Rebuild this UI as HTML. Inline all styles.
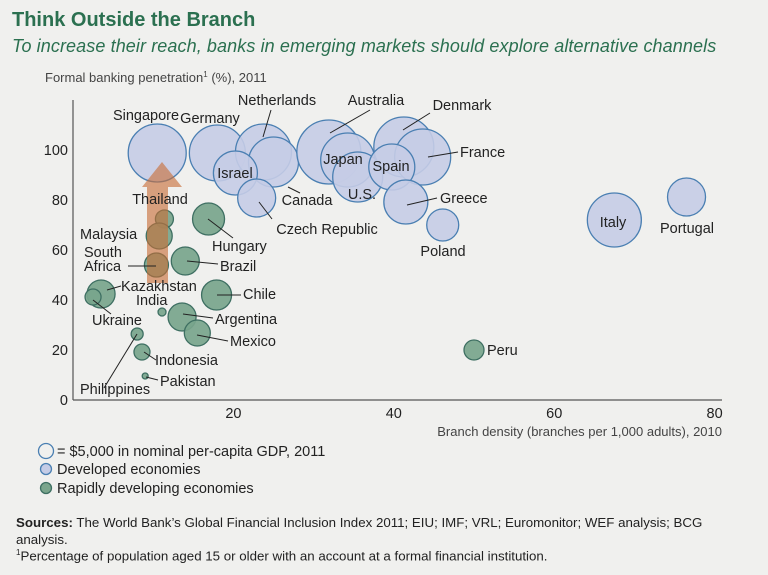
<!DOCTYPE html>
<html><head><meta charset="utf-8"><style>
body{margin:0;background:#f0f0ee;font-family:"Liberation Sans",sans-serif;}
#wrap{position:relative;width:768px;height:575px;overflow:hidden;background:#f0f0ee;}
.t{position:absolute;white-space:nowrap;}
</style></head><body>
<div id="wrap">
<div class="t" style="left:12px;top:9px;font-size:20px;font-weight:bold;color:#2b7050;">Think Outside the Branch</div>
<div class="t" style="left:12px;top:36px;font-size:18px;font-style:italic;color:#2b7050;letter-spacing:0.1px;">To increase their reach, banks in emerging markets should explore alternative channels</div>
<svg id="chart" width="768" height="575" style="position:absolute;left:0;top:0"></svg>
<div class="t" style="left:16px;top:514px;font-size:13.3px;color:#222;line-height:17px;"><b>Sources:</b> The World Bank’s Global Financial Inclusion Index 2011; EIU; IMF; VRL; Euromonitor; WEF analysis; BCG<br>analysis.</div>
<div class="t" style="left:16px;top:548px;font-size:13.3px;color:#222;"><sup style="font-size:8px">1</sup>Percentage of population aged 15 or older with an account at a formal financial institution.</div>
</div>
<script>
const countries=["Singapore","Germany","Netherlands","Canada","Israel","Czech Republic","Australia","Japan","U.S.","Denmark","France","Spain","Greece","Poland","Italy","Portugal","Thailand","Malaysia","South Africa","Hungary","Brazil","Kazakhstan","Ukraine","Chile","India","Argentina","Mexico","Philippines","Indonesia","Pakistan","Peru"];
const branchDensity=[10.5,18,23.75,25,20.25,22.9,31.9,34.25,35.5,41.25,43.6,39.75,41.5,46.1,67.5,76.5,11.4,10.75,10.4,16.9,14,3.5,2.5,17.9,11.1,13.6,15.5,8,8.6,9,50];
const penetration=[98.8,98.8,99.2,95.2,90.8,80.8,99.2,96,89.2,101.2,97.2,93.2,79.2,70,72,81.2,72.4,65.6,54,72.4,55.6,42.4,41.2,42,35.2,33.2,26.8,26.4,19.2,9.6,20];
const bubbleSize=[29,28,28,25,22,19,32,27,25,30,28,23,22,16,27,19,9,13,12,16,14,14,8,15,4,14,13,6,8,3,10];
const developed=[1,1,1,1,1,1,1,1,1,1,1,1,1,1,1,1,0,0,0,0,0,0,0,0,0,0,0,0,0,0,0];
const xTicks=[20,40,60,80];
const yTicks=[0,20,40,60,80,100];
const NS="http://www.w3.org/2000/svg";
const svg=document.getElementById('chart');
const X=v=>73+v*8.02, Y=v=>400-v*2.5;
function mk(tag,at,parent){const e=document.createElementNS(NS,tag);for(const k in at)e.setAttribute(k,at[k]);(parent||svg).appendChild(e);return e;}
function txt(s,x,y,o){const e=mk('text',Object.assign({x:x,y:y,'font-size':14.5,fill:'#222','font-family':'Liberation Sans, sans-serif'},o||{}));e.textContent=s;return e;}
let a=mk('line',{x1:73,y1:100,x2:73,y2:400,stroke:'#555','stroke-width':1.2});

a=mk('line',{x1:73,y1:400,x2:722,y2:400,stroke:'#555','stroke-width':1.2});

xTicks.forEach(v=>{const t=txt(String(v),X(v),418,{'text-anchor':'middle'});
});
yTicks.forEach(v=>{const t=txt(String(v),68,Y(v)+5,{'text-anchor':'end'});
});
let t=txt('Formal banking penetration',45,82,{'font-size':13,fill:'#444'});

const ts=mk('tspan',{dy:-5,'font-size':8},t);ts.textContent='1';
const ts2=mk('tspan',{dy:5},t);ts2.textContent=' (%), 2011';
t=txt('Branch density (branches per 1,000 adults), 2010',722,436,{'font-size':13,fill:'#444','text-anchor':'end'});

countries.forEach((c,i)=>{const b=mk('circle',{cx:X(branchDensity[i]),cy:Y(penetration[i]),r:bubbleSize[i],
fill:developed[i]?'rgba(197,204,230,0.9)':'rgba(120,165,140,0.92)',stroke:developed[i]?'#4a7fb2':'#3e6f62','stroke-width':1.3});

});
const ar=mk('path',{d:'M147,283 L147,187 L142,187 L162,162 L182,187 L168,187 L168,283 Z',fill:'rgba(200,110,55,0.62)'});

const labels=[["Singapore",146,120,"middle"],["Germany",210,123,"middle"],["Netherlands",277,105,"middle",271,110,263,137],
["Australia",376,105,"middle",370,110,330,133],["Denmark",462,110,"middle",430,113,403,130],["France",460,157,"start",428,157,458,152],
["Japan",343,164,"middle"],["Spain",391,171,"middle"],["Israel",235,178,"middle"],["U.S.",362,199,"middle"],
["Canada",307,205,"middle",288,187,300,193],["Czech Republic",327,234,"middle",259,202,272,219],["Greece",440,203,"start",407,205,437,198],
["Poland",443,256,"middle"],["Italy",613,227,"middle"],["Portugal",687,233,"middle"],
["Thailand",160,204,"middle"],["Malaysia",80,239,"start"],["South",84,257,"start"],["Africa",84,271,"start",128,266,156,266],
["Hungary",212,251,"start",208,219,233,238],["Brazil",220,271,"start",187,261,218,264],["Kazakhstan",121,291,"start",107,290,121,286],
["India",136,305,"start"],["Ukraine",92,325,"start",93,300,111,314],["Chile",243,299,"start",217,295,241,295],
["Argentina",215,324,"start",183,314,213,318],["Mexico",230,346,"start",197,335,228,341],["Indonesia",155,365,"start",144,352,156,360],
["Pakistan",160,386,"start",146,377,158,380],["Philippines",80,394,"start",137,334,104,388],["Peru",487,355,"start"]];
labels.forEach(L=>{if(L.length>4){const l=mk('line',{x1:L[4],y1:L[5],x2:L[6],y2:L[7],stroke:'#222','stroke-width':1});
}
const e=txt(L[0],L[1],L[2],{'text-anchor':L[3]});
});
let g=mk('circle',{cx:46,cy:451,r:7.5,fill:'none',stroke:'#4a7fb2','stroke-width':1.3});

t=txt('= $5,000 in nominal per-capita GDP, 2011',57,456);
g=mk('circle',{cx:46,cy:469,r:5.5,fill:'#c5cce6',stroke:'#4a7fb2','stroke-width':1.3});

t=txt('Developed economies',57,474);
g=mk('circle',{cx:46,cy:488,r:5.5,fill:'#7aa58c',stroke:'#3e6f62','stroke-width':1.3});

t=txt('Rapidly developing economies',57,493);
</script>
</body></html>
